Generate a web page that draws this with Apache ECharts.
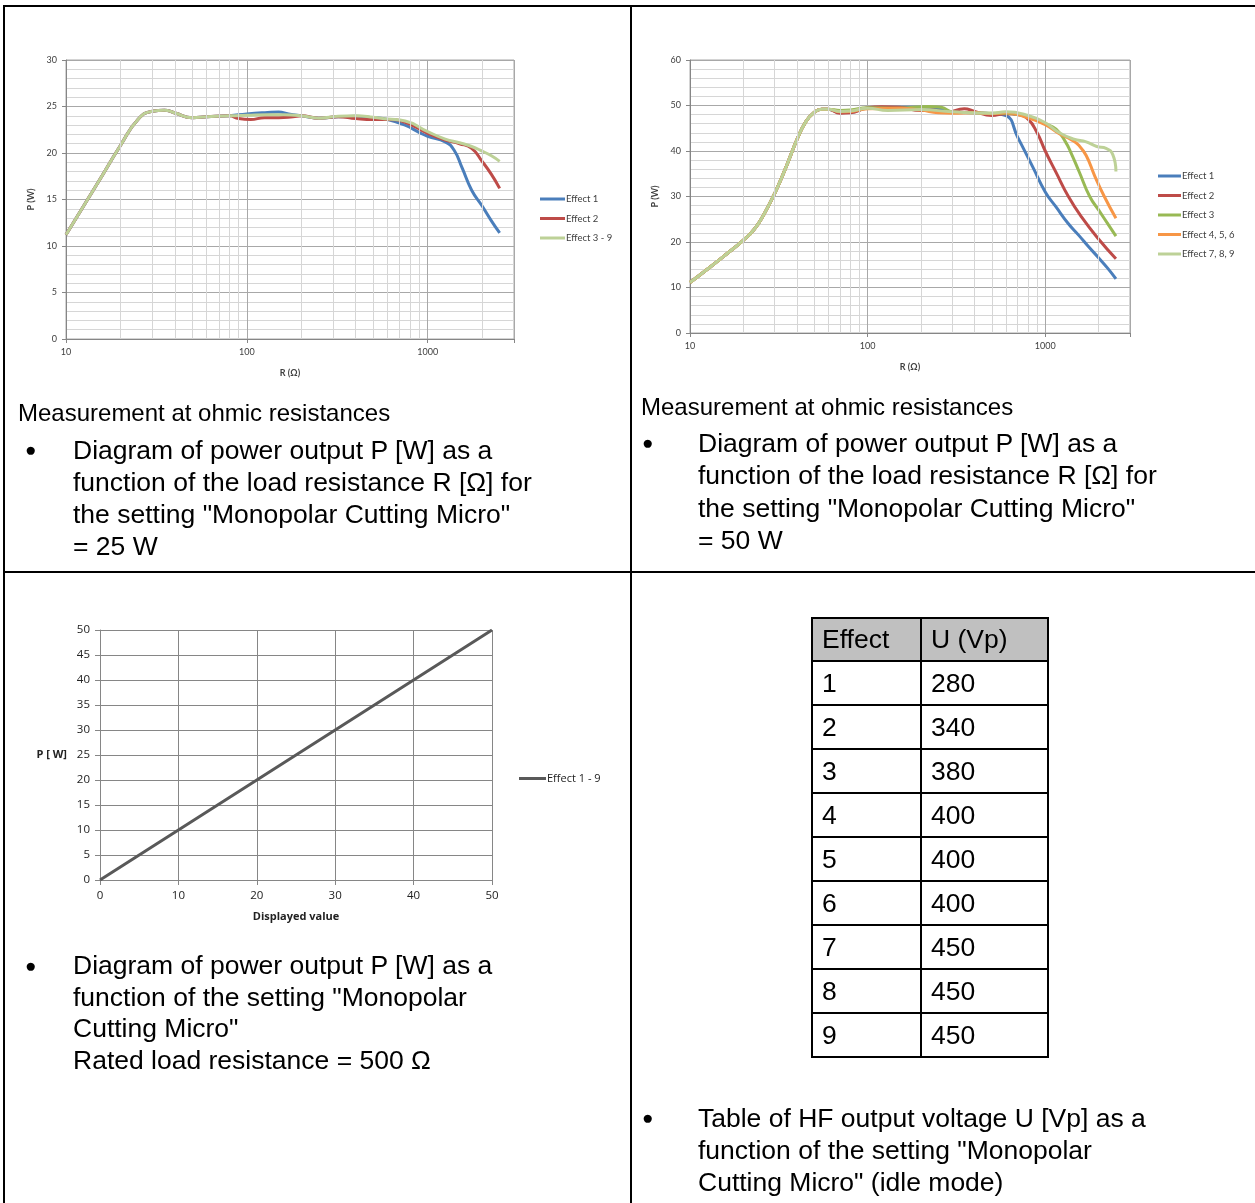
<!DOCTYPE html>
<html><head><meta charset="utf-8">
<script src="https://cdn.jsdelivr.net/npm/echarts@6/dist/echarts.min.js"></script>
<style>
body{margin:0;background:#fff;}
#page{position:relative;width:1255px;height:1203px;overflow:hidden;background:#fff;font-family:"Liberation Sans",Arial,sans-serif;color:#000;}
#chart{position:absolute;left:0;top:0;width:1255px;height:1203px;}
.ln{position:absolute;background:#000;}
.txt{position:absolute;font-size:26.5px;line-height:32px;white-space:nowrap;}
.cap{position:absolute;font-size:24px;line-height:32px;white-space:nowrap;}
.bul{position:absolute;font-size:19px;line-height:32px;}
#tbl{position:absolute;left:811px;top:617px;border-collapse:collapse;font-size:26.5px;}
#tbl td{border:2px solid #000;padding:0 0 0 9px;box-sizing:border-box;}
</style></head>
<body>
<div id="page">
  <div id="chart"></div>
  <div class="ln" style="left:3px;top:5px;width:1252px;height:2px"></div>
  <div class="ln" style="left:3px;top:5px;width:2px;height:1198px"></div>
  <div class="ln" style="left:630px;top:5px;width:2px;height:1198px"></div>
  <div class="ln" style="left:3px;top:571px;width:1252px;height:2px"></div>

  <div class="cap" style="left:18px;top:397px">Measurement at ohmic resistances</div>
  <div class="bul" style="left:25px;top:434px">&#9679;</div>
  <div class="txt" style="left:73px;top:434px">Diagram of power output P [W] as a<br>function of the load resistance R [&Omega;] for<br>the setting "Monopolar Cutting Micro"<br>= 25 W</div>

  <div class="cap" style="left:641px;top:391px">Measurement at ohmic resistances</div>
  <div class="bul" style="left:642px;top:427px">&#9679;</div>
  <div class="txt" style="left:698px;top:427px;line-height:32.3px">Diagram of power output P [W] as a<br>function of the load resistance R [&Omega;] for<br>the setting "Monopolar Cutting Micro"<br>= 50 W</div>

  <div class="bul" style="left:25px;top:950px">&#9679;</div>
  <div class="txt" style="left:73px;top:950px;line-height:31.7px">Diagram of power output P [W] as a<br>function of the setting "Monopolar<br>Cutting Micro"<br>Rated load resistance = 500 &Omega;</div>

  <div class="bul" style="left:642px;top:1102px">&#9679;</div>
  <div class="txt" style="left:698px;top:1102px">Table of HF output voltage U [Vp] as a<br>function of the setting "Monopolar<br>Cutting Micro" (idle mode)</div>

  <table id="tbl"></table>
</div>
<script>
// ---------- Data: chart 1 (25 W) ----------
const r25Base = [10, 15, 20, 25, 30, 35, 40, 50, 60, 80];
const p25Base = [11.2, 16.8, 20.8, 23.6, 24.5, 24.6, 24.3, 23.8, 23.9, 24.0];
const r25Eff1 = [100, 130, 150, 170, 200, 250, 320, 400, 500, 600, 750, 900, 1000, 1250, 1400, 1550, 1750, 2000, 2250, 2500];
const p25Eff1 = [24.2, 24.35, 24.4, 24.2, 24.0, 23.75, 23.9, 23.95, 23.8, 23.6, 23.0, 22.2, 21.8, 21.2, 20.3, 18.4, 16.0, 14.3, 12.7, 11.4];
const r25Eff2 = [90, 105, 125, 150, 180, 200, 250, 320, 400, 500, 600, 750, 1000, 1250, 1500, 1750, 2000, 2250, 2500];
const p25Eff2 = [23.7, 23.6, 23.8, 23.8, 23.9, 24.0, 23.75, 23.9, 23.7, 23.6, 23.6, 23.3, 22.1, 21.4, 21.0, 20.5, 19.1, 17.7, 16.2];
const r25Eff39 = [100, 130, 160, 200, 250, 320, 400, 500, 600, 750, 1000, 1250, 1500, 1750, 2000, 2250, 2500];
const p25Eff39 = [24.05, 24.1, 24.1, 24.0, 23.75, 23.95, 24.0, 23.85, 23.65, 23.45, 22.3, 21.5, 21.1, 20.7, 20.2, 19.7, 19.1];
const names25 = ['Effect 1', 'Effect 2', 'Effect 3 - 9'];

// ---------- Data: chart 2 (50 W) ----------
const r50Base = [10, 13, 16, 20, 23, 26, 30, 35, 40, 45, 50, 55, 60];
const p50Base = [11.1, 14.5, 17.3, 20.4, 22.8, 26.0, 30.7, 36.8, 42.5, 46.5, 48.5, 49.2, 49.2];
const r50Eff1 = [70, 80, 100, 150, 200, 250, 300, 400, 500, 600, 700, 850, 1000, 1150, 1350, 1550, 1750, 2000, 2250, 2500];
const p50Eff1 = [48.4, 48.5, 49.4, 49.6, 49.6, 49.3, 48.6, 48.4, 48.2, 47.8, 43.0, 36.5, 31.0, 27.7, 24.0, 21.4, 19.0, 16.5, 14.2, 11.9];
const r50Eff2 = [70, 80, 100, 120, 150, 200, 230, 280, 350, 400, 500, 600, 700, 800, 900, 1000, 1150, 1350, 1600, 2000, 2500];
const p50Eff2 = [48.3, 48.4, 49.5, 49.7, 49.6, 48.9, 49.0, 48.5, 49.3, 48.7, 47.8, 48.2, 48.0, 47.0, 44.0, 40.0, 35.3, 30.0, 25.5, 20.6, 16.3];
const r50Eff3 = [70, 80, 100, 150, 220, 260, 300, 400, 500, 600, 700, 800, 1000, 1150, 1300, 1400, 1550, 1780, 2000, 2250, 2500];
const p50Eff3 = [48.9, 49.0, 49.5, 49.4, 49.8, 49.6, 48.6, 48.4, 48.3, 48.3, 48.0, 47.6, 46.0, 44.8, 42.0, 39.5, 35.5, 30.0, 27.0, 24.0, 21.3];
const r50Eff456 = [70, 80, 100, 150, 200, 250, 300, 400, 500, 600, 800, 1000, 1200, 1400, 1550, 1700, 1900, 2150, 2500];
const p50Eff456 = [48.6, 48.7, 49.3, 49.4, 49.0, 48.4, 48.3, 48.4, 48.2, 48.4, 47.3, 45.8, 43.8, 42.5, 41.2, 39.0, 34.5, 30.0, 25.2];
const r50Eff789 = [70, 80, 100, 130, 200, 300, 500, 600, 800, 1000, 1200, 1450, 1700, 1950, 2200, 2400, 2500];
const p50Eff789 = [48.7, 48.8, 49.4, 48.9, 49.1, 48.6, 48.3, 48.6, 47.8, 46.2, 44.0, 42.6, 42.0, 41.0, 40.6, 39.2, 35.5];
const names50 = ['Effect 1', 'Effect 2', 'Effect 3', 'Effect 4, 5, 6', 'Effect 7, 8, 9'];

// ---------- Data: chart 3 (setting) ----------
const displayed = [0, 10, 20, 30, 40, 50];
const powerOut = [0, 10, 20, 30, 40, 50];
const names3 = ['Effect 1 - 9'];

// ---------- Axis ticks ----------
const logTickLabels = ['10', '100', '1000'];
const minorR = [20, 30, 40, 50, 60, 70, 80, 90, 200, 300, 400, 500, 600, 700, 800, 900, 2000];

// ---------- Table data ----------
const tableHeader = ['Effect', 'U (Vp)'];
const tableEffects = [1, 2, 3, 4, 5, 6, 7, 8, 9];
const tableVoltages = [280, 340, 380, 400, 400, 400, 450, 450, 450];

// build table
(function () {
  const t = document.getElementById('tbl');
  let html = '<tr style="height:43px;background:#c0c0c0"><td style="width:109px">' + tableHeader[0] + '</td><td style="width:127px">' + tableHeader[1] + '</td></tr>';
  tableEffects.forEach((e, i) => {
    html += '<tr style="height:44px"><td>' + e + '</td><td>' + tableVoltages[i] + '</td></tr>';
  });
  t.innerHTML = html;
})();

function pairs(rs, ps) { return rs.map((r, i) => [r, ps[i]]); }
function joined(rb, pb, rt, pt) { return pairs(rb, pb).concat(pairs(rt, pt)); }

const C = { blue: '#4a7ebb', red: '#be4b48', green: '#98b954', orange: '#f79646', pale: '#bdd197' };
const F = 'Lato, "Noto Sans", sans-serif';
const F3 = '"Open Sans", sans-serif';

function logAxis(gi, fs) {
  return {
    type: 'log', logBase: 10, gridIndex: gi, min: 10, max: 3000,
    name: 'R (\u03A9)', nameLocation: 'middle', nameGap: 30,
    nameTextStyle: { fontFamily: F, fontSize: fs, fontWeight: 'bold', color: '#404040' },
    axisLine: { show: true, lineStyle: { color: '#868686', width: 1 } },
    axisTick: { show: true, length: 4, lineStyle: { color: '#868686' } },
    axisLabel: {
      fontFamily: F, fontSize: fs, color: '#404040', margin: 9,
      formatter: v => { const s = String(Math.round(v)); return logTickLabels.includes(s) ? s : ''; }
    },
    splitLine: { show: true, lineStyle: { color: '#a8a8a8', width: 1 } },
    minorTick: { show: false }, minorSplitLine: { show: false }
  };
}
function valAxis(gi, max, interval, fs, gap) {
  return {
    type: 'value', gridIndex: gi, min: 0, max: max, interval: interval,
    name: 'P (W)', nameLocation: 'middle', nameGap: gap, nameRotate: 90,
    nameTextStyle: { fontFamily: F, fontSize: fs, fontWeight: 'bold', color: '#404040' },
    axisLine: { show: true, lineStyle: { color: '#868686', width: 1 } },
    axisTick: { show: true, length: 4, lineStyle: { color: '#868686' } },
    axisLabel: { fontFamily: F, fontSize: fs, color: '#404040', margin: 9 },
    splitLine: { show: true, lineStyle: { color: '#a8a8a8', width: 1 } },
    minorTick: { show: false, splitNumber: 5 },
    minorSplitLine: { show: true, lineStyle: { color: '#d6d6d6', width: 1 } }
  };
}
function gridMinor(xi, yi) {
  return {
    type: 'line', xAxisIndex: xi, yAxisIndex: yi, data: [], z: 1, silent: true,
    markLine: {
      silent: true, symbol: 'none', animation: false,
      label: { show: false },
      lineStyle: { color: '#d6d6d6', width: 1, type: 'solid' },
      emphasis: { disabled: true },
      data: minorR.map(v => ({ xAxis: v }))
    }
  };
}
function curve(name, xi, yi, color, data) {
  return {
    name: name, type: 'line', xAxisIndex: xi, yAxisIndex: yi, data: data,
    smooth: 0.5, showSymbol: false, symbol: 'none', z: 3, animation: false,
    lineStyle: { color: color, width: 3 }, itemStyle: { color: color }
  };
}

const chart = echarts.init(document.getElementById('chart'), null, { renderer: 'canvas' });
chart.setOption({
  animation: false,
  backgroundColor: 'transparent',
  grid: [
    { left: 66, top: 60, width: 448, height: 279, show: true, borderColor: '#a8a8a8', borderWidth: 1, backgroundColor: 'transparent' },
    { left: 690, top: 60, width: 440, height: 273, show: true, borderColor: '#a8a8a8', borderWidth: 1, backgroundColor: 'transparent' },
    { left: 100, top: 630, width: 392, height: 250, show: false }
  ],
  xAxis: [
    logAxis(0, 9),
    logAxis(1, 9),
    {
      type: 'value', gridIndex: 2, min: 0, max: 50, interval: 10,
      name: 'Displayed value', nameLocation: 'middle', nameGap: 31,
      nameTextStyle: { fontFamily: F3, fontSize: 11, fontWeight: 'bold', color: '#222' },
      axisLine: { show: true, lineStyle: { color: '#868686' } },
      axisTick: { show: true, length: 5, lineStyle: { color: '#868686' } },
      axisLabel: { fontFamily: F3, fontSize: 11.5, color: '#222', margin: 10 },
      splitLine: { show: true, lineStyle: { color: '#868686' } }
    }
  ],
  yAxis: [
    valAxis(0, 30, 5, 9, 30),
    valAxis(1, 60, 10, 9, 30),
    {
      type: 'value', gridIndex: 2, min: 0, max: 50, interval: 5,
      name: 'P [ W]', nameLocation: 'middle', nameGap: 33, nameRotate: 0,
      nameTextStyle: { fontFamily: F3, fontSize: 11, fontWeight: 'bold', color: '#222' },
      axisLine: { show: true, lineStyle: { color: '#868686' } },
      axisTick: { show: true, length: 5, lineStyle: { color: '#868686' } },
      axisLabel: { fontFamily: F3, fontSize: 11.5, color: '#222', margin: 10 },
      splitLine: { show: true, lineStyle: { color: '#868686' } }
    }
  ],
  legend: [
    {
      data: names25, orient: 'vertical', left: 540, top: 194, padding: 0, itemWidth: 25, itemHeight: 3, itemGap: 9.5,
      icon: 'rect', selectedMode: false,
      textStyle: { fontFamily: F, fontSize: 9.5, color: '#404040', padding: [0, 0, 0, -4] }
    },
    {
      data: names50, orient: 'vertical', left: 1158, top: 171, padding: 0, itemWidth: 23, itemHeight: 3, itemGap: 9.5,
      icon: 'rect', selectedMode: false,
      textStyle: { fontFamily: F, fontSize: 9.5, color: '#404040', padding: [0, 0, 0, -4] }
    },
    {
      data: names3, orient: 'vertical', left: 519, top: 773, padding: 0, itemWidth: 27, itemHeight: 3,
      icon: 'rect', selectedMode: false,
      textStyle: { fontFamily: F3, fontSize: 11, color: '#222', padding: [0, 0, 0, -4] }
    }
  ],
  series: [
    gridMinor(0, 0),
    curve(names25[0], 0, 0, C.blue, joined(r25Base, p25Base, r25Eff1, p25Eff1)),
    curve(names25[1], 0, 0, C.red, joined(r25Base, p25Base, r25Eff2, p25Eff2)),
    curve(names25[2], 0, 0, C.pale, joined(r25Base, p25Base, r25Eff39, p25Eff39)),
    gridMinor(1, 1),
    curve(names50[0], 1, 1, C.blue, joined(r50Base, p50Base, r50Eff1, p50Eff1)),
    curve(names50[1], 1, 1, C.red, joined(r50Base, p50Base, r50Eff2, p50Eff2)),
    curve(names50[2], 1, 1, C.green, joined(r50Base, p50Base, r50Eff3, p50Eff3)),
    curve(names50[3], 1, 1, C.orange, joined(r50Base, p50Base, r50Eff456, p50Eff456)),
    curve(names50[4], 1, 1, C.pale, joined(r50Base, p50Base, r50Eff789, p50Eff789)),
    {
      name: names3[0], type: 'line', xAxisIndex: 2, yAxisIndex: 2,
      data: pairs(displayed, powerOut), showSymbol: false, symbol: 'none', z: 3,
      lineStyle: { color: '#595959', width: 3 }, itemStyle: { color: '#595959' }
    }
  ]
});
</script>
</body></html>
